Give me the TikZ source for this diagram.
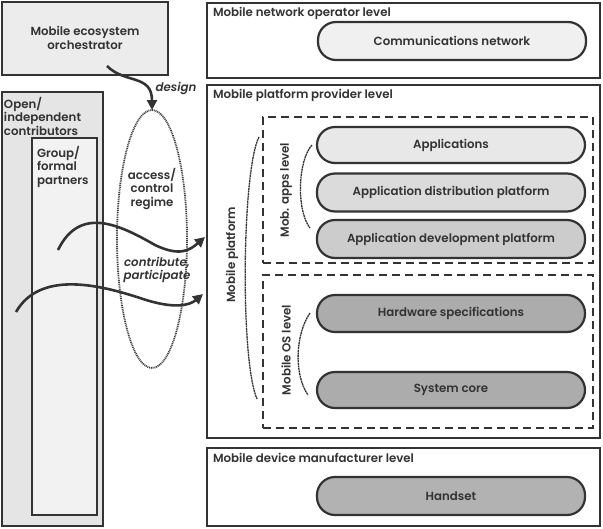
\documentclass[tikz,border=0pt]{standalone}
\usepackage{fontspec}
\setmainfont{Poppins}[UprightFont={* SemiBold}, ItalicFont={* SemiBold Italic}]
\usetikzlibrary{arrows.meta,shapes.geometric}
\definecolor{ink}{HTML}{333333}
\begin{document}
\begin{tikzpicture}[x=1pt,y=-1pt,
  every node/.style={text=ink, font=\fontsize{11.8}{13.5}\selectfont, inner sep=0pt, outer sep=0pt},
  box/.style={draw=ink, line width=2.8pt, anchor=north west},
  pill/.style={draw=ink, line width=2.2pt, rounded corners=18pt, minimum width=268pt},
  dbox/.style={draw=ink, line width=2.2pt, dash pattern=on 8pt off 5pt, anchor=north west},
  lvl/.style={anchor=north west},
  brk/.style={draw=ink, line width=1.3pt, dash pattern=on 2pt off 0.6pt},
  flow/.style={draw=ink, line width=2.6pt, -{Triangle[length=10pt,width=10pt]}},
  it/.style={font=\fontsize{11.8}{13.5}\selectfont\itshape}
]
\useasboundingbox (0,0) rectangle (603,528);
% left side
\node[box, fill=gray!15, minimum width=166pt, minimum height=73pt] (orch) at (2,2) {};
\node[align=center] (orcht) at (85,38) {Mobile ecosystem\\orchestrator};
\node[box, fill=gray!20, minimum width=101pt, minimum height=434pt] (open) at (2,92) {};
\node[lvl, align=left] (opent) at (4,97) {Open/\\independent\\contributors};
\node[box, fill=gray!10, minimum width=65pt, minimum height=377pt] (grp) at (32,138) {};
\node[lvl, align=left] (grpt) at (37,146) {Group/\\formal\\partners};
% regime ellipse
\node[ellipse, draw=gray!50!black, line width=1.8pt, dash pattern=on 1pt off 0.8pt, minimum width=70pt, minimum height=258pt] (reg) at (152,239) {};
\node[align=center] (regt) at (152,189) {access/\\control\\regime};
\node[it, align=center] (cont) at (157,270) {contribute,\\participate};
\node[it] (des) at (176,88) {design};
% right side
\node[box, fill=white, minimum width=393pt, minimum height=75pt] (net) at (207,3) {};
\node[lvl] (nett) at (213,7) {Mobile network operator level};
\node[pill, fill=gray!12, minimum height=38pt] (comm) at (452,41) {Communications network};
\node[box, fill=white, minimum width=393pt, minimum height=353pt] (plat) at (207,85) {};
\node[lvl] (platt) at (213,89) {Mobile platform provider level};
\node[dbox, minimum width=330pt, minimum height=146pt] (apps) at (263,117) {};
\node[dbox, minimum width=330pt, minimum height=153pt] (os) at (263,275) {};
\node[pill, fill=gray!18, minimum height=36pt] (appl) at (451,145) {Applications};
\node[pill, fill=gray!28, minimum height=38pt] (dist) at (451,192.5) {Application distribution platform};
\node[pill, fill=gray!40, minimum height=38pt] (dev) at (451,239) {Application development platform};
\node[pill, fill=gray!65, minimum height=37pt] (hw) at (451,313.5) {Hardware specifications};
\node[pill, fill=gray!65, minimum height=36pt] (core) at (451,390) {System core};
\node[rotate=90] (appsl) at (286,190) {Mob. apps level};
\node[rotate=90] (osl) at (286,350) {Mobile OS level};
\node[rotate=90] (platl) at (232,255) {Mobile platform};
\node[box, fill=white, minimum width=393pt, minimum height=78pt] (dvc) at (207,448) {};
\node[lvl] (dvct) at (213,453) {Mobile device manufacturer level};
\node[pill, fill=gray!60, minimum height=38pt] (hand) at (451,496) {Handset};
% brackets
\draw[brk] (312,145) .. controls (298,160) and (296,210) .. (310,228);
\draw[brk] (310,313) .. controls (295,335) and (294,375) .. (308,395);
\draw[brk] (259,137) .. controls (242,170) and (240,360) .. (257,399);
% arrows
\coordinate (d0) at (107,66);
\draw[flow] (d0) .. controls (125,84) and (152,74) .. (reg.north);
\coordinate (a0) at (58,250);
\coordinate (a1) at (205,237);
\draw[flow] (a0) .. controls (80,205) and (120,225) .. (155,245) .. controls (180,257) and (190,250) .. (a1);
\coordinate (b0) at (16,312);
\coordinate (b1) at (203,294);
\draw[flow] (b0) .. controls (40,270) and (100,285) .. (140,298) .. controls (175,310) and (190,305) .. (b1);
\end{tikzpicture}
\end{document}
